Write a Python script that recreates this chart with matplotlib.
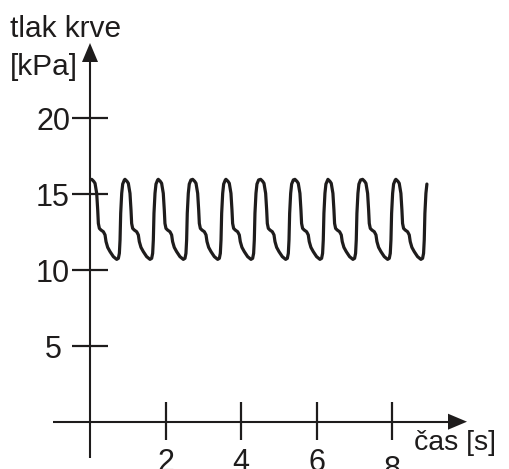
import numpy as np
import matplotlib
matplotlib.use('Agg')
import matplotlib.pyplot as plt

plt.rcParams['font.family'] = ['Liberation Sans', 'DejaVu Sans']

# one heart beat: time from systolic peak [s], pressure [kPa]
beat_dt = [0.0, 0.053, 0.088, 0.132, 0.159, 0.176, 0.203, 0.247, 0.309, 0.353,
           0.379, 0.423, 0.485, 0.573, 0.662, 0.706, 0.732, 0.750, 0.767, 0.794,
           0.820, 0.864]
beat_p = [15.96, 15.83, 15.70, 15.04, 13.94, 13.06, 12.73, 12.62, 12.51, 12.30,
          11.86, 11.48, 11.20, 10.87, 10.69, 10.76, 11.09, 11.97, 13.72, 15.04,
          15.65, 15.92]
# times of the peaks [s]
peak_t = [0.045, 0.926, 1.807, 2.717, 3.598, 4.516, 5.423, 6.296, 7.214, 8.095]
t_end = 8.95

xticks = [2, 4, 6, 8]
yticks = [5, 10, 15, 20]

C = '#1e1c1c'

# build trace from the beats
t, p = [], []
for tp in peak_t:
    for dt, v in zip(beat_dt, beat_p):
        if tp + dt <= t_end:
            t.append(tp + dt)
            p.append(v)

# pixel geometry of the reference
px_x0, px_s = 90.0, 37.79      # x pixel of t=0, pixels per second
px_y0, px_k = 421.7, 15.185    # y pixel of p=0, pixels per kPa
W, H = 509, 469

def dx(px):
  return px / px_s

def dy(px):
  return px / px_k

fig = plt.figure(figsize=(W / 100, H / 100), dpi=100)
ax = fig.add_axes([0, 0, 1, 1])
ax.set_xlim(-px_x0 / px_s, (W - px_x0) / px_s)
ax.set_ylim((px_y0 - H) / px_k, px_y0 / px_k)
ax.axis('off')

# axes with arrows
xa0, xa1 = dx(53 - px_x0), dx(467 - px_x0)
ya0, ya1 = dy(px_y0 - 458), dy(px_y0 - 43)
ax.plot([xa0, xa1 - dx(10)], [0, 0], color=C, lw=1.5, solid_capstyle='butt')
ax.plot([0, 0], [ya0, ya1 - dy(10)], color=C, lw=1.5, solid_capstyle='butt')
ax.fill([xa1, xa1 - dx(19), xa1 - dx(19)], [0, dy(8), -dy(8)], color=C, lw=0)
ax.fill([0, dx(8), -dx(8)], [ya1, ya1 - dy(19), ya1 - dy(19)], color=C, lw=0)

# ticks
for x in xticks:
  ax.plot([x, x], [dy(px_y0 - 440), dy(px_y0 - 402)], color=C, lw=1.6, solid_capstyle='butt')
  off = 30 if x == 8 else 23
  ax.text(x, -dy(off + 26), str(x), ha='center', va='baseline', fontsize=22, color=C)
for y in yticks:
  ax.plot([dx(71.7 - px_x0), dx(108.3 - px_x0)], [y, y], color=C, lw=1.6, solid_capstyle='butt')
  right = 62 if y == 5 else 70
  ax.text(dx(right - px_x0), y - dy(12), str(y), ha='right', va='baseline', fontsize=22, color=C)

# axis titles
ax.text(dx(10 - px_x0), dy(px_y0 - 37.3), 'tlak krve', ha='left', va='baseline', fontsize=21.5, color=C)
ax.text(dx(10 - px_x0), dy(px_y0 - 75), '[kPa]', ha='left', va='baseline', fontsize=21.5, color=C)
ax.text(dx(414 - px_x0), dy(px_y0 - 450), 'čas [s]', ha='left', va='baseline', fontsize=20.5, color=C)

# blood pressure curve
ax.plot(t, p, color=C, lw=2.3, solid_joinstyle='round', solid_capstyle='round')

fig.savefig('out.png', dpi=100)
